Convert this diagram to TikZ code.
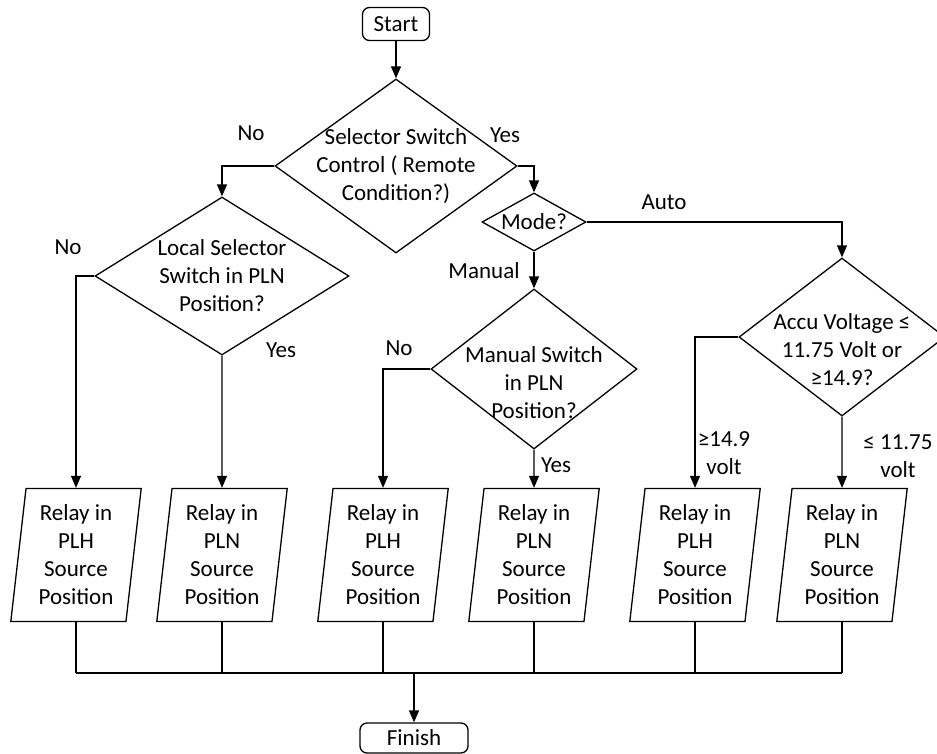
\documentclass[tikz,border=0pt]{standalone}
\usepackage{fontspec}
\setmainfont{Carlito}
\usepackage{tikz}
\usetikzlibrary{calc,arrows.meta,positioning,shapes.geometric}

\begin{document}
\begin{tikzpicture}[x=1pt,y=-1pt,>={Triangle[length=12pt,width=10pt]},line width=1.3pt,
  font=\fontsize{23}{28}\selectfont,
  term/.style={draw,rounded corners=7pt,minimum height=33pt,inner sep=0pt},
  decide/.style={draw,diamond,inner sep=0pt},
  relay/.style={draw,trapezium,trapezium left angle=83.5,trapezium right angle=96.5,
    trapezium stretches=true,minimum width=131pt,minimum height=133pt,inner sep=0pt,align=center},
  lbl/.style={align=center,inner sep=0pt}]
  \useasboundingbox (0,0) rectangle (937,753);

  % Start and first decision
  \node[term,minimum width=67pt] (start) at (396,24) {Start};
  \node[decide,minimum width=242pt,minimum height=174pt,
    label={[lbl]center:Selector Switch\\Control ( Remote\\Condition?)}] (sel) at (396,166) {};

  % Local / mode decisions
  \node[decide,minimum width=254pt,minimum height=158pt,
    label={[lbl]center:Local Selector\\Switch in PLN\\Position?}] (local) at (222,276) {};
  \node[decide,minimum width=104pt,minimum height=58pt,
    label={[lbl]center:Mode?}] (mode) at (534,222) {};
  \node[decide,minimum width=206pt,minimum height=160pt,
    label={[lbl,yshift=-14pt]center:Manual Switch\\in PLN\\Position?}] (manual) at (534,369) {};
  \node[decide,minimum width=206pt,minimum height=158pt,
    label={[lbl,yshift=-13pt]center:Accu Voltage ≤\\11.75 Volt or\\≥14.9?}] (accu) at (842,337) {};

  % Relay outputs
  \foreach \name/\xx/\src in {r1/76/PLH,r2/222/PLN,r3/383/PLH,r4/534/PLN,r5/695/PLH,r6/842/PLN}
    \node[relay] (\name) at (\xx,555) {Relay in\\\src\\Source\\Position};

  \node[term,minimum width=108pt,minimum height=30pt] (finish) at (414,738) {Finish};

  % Decision flow
  \draw[->] (start) -- (sel);
  \draw[->] (sel.west) -| (local.north);
  \draw[->] (sel.east) -| (mode.north);
  \draw[->] (local.west) -| (r1.north);
  \draw[->] (local.south) -- (r2.north);
  \draw[->] (mode.east) -| (accu.north);
  \draw[->] (mode.south) -- (manual.north);
  \draw[->] (manual.west) -| (r3.north);
  \draw[->] (manual.south) -- (r4.north);
  \draw[->] (accu.west) -| (r5.north);
  \draw[->] (accu.south) -- (r6.north);

  % Branch labels
  \node[lbl] (noA) at (251,133) {No};
  \node[lbl] (yesA) at (505,135) {Yes};
  \node[lbl] (noB) at (68,247) {No};
  \node[lbl] (yesB) at (281,350) {Yes};
  \node[lbl] (manlbl) at (484,271) {Manual};
  \node[lbl] (autolbl) at (664,202) {Auto};
  \node[lbl] (noC) at (399,348) {No};
  \node[lbl] (yesC) at (556,465) {Yes};
  \node[lbl] (hilbl) at (724,453) {≥14.9\\volt};
  \node[lbl] (lolbl) at (898,456) {≤ 11.75\\volt};

  % Collecting bus to finish
  \coordinate (join) at (414,673);
  \foreach \name in {r1,r2,r3,r4,r5,r6}
    \draw (\name.south) -- (\name.south |- join);
  \draw (r1.south |- join) -- (r6.south |- join);
  \draw[line width=2.4pt] (join) -- (r4.south |- join);
  \draw[->] (join) -- (finish.north);
\end{tikzpicture}
\end{document}
